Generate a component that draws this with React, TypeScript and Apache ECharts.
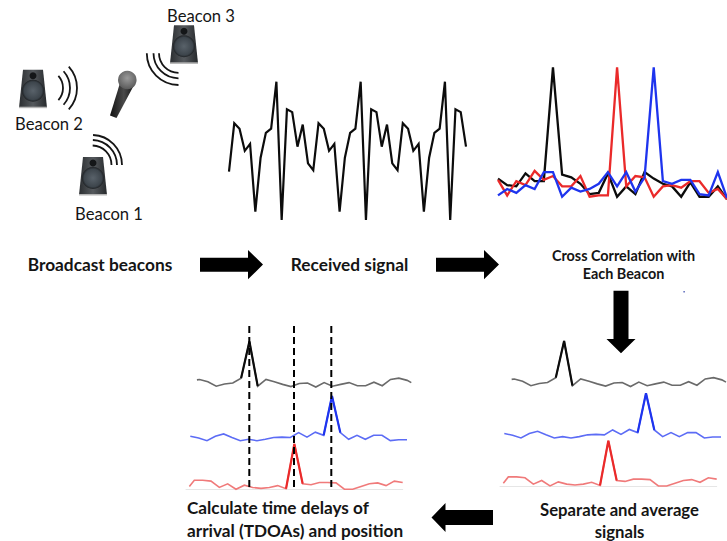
import React, { useEffect, useRef } from "react";
import * as echarts from "echarts";

const receivedSignal = [35, 70, 66, 50, 55, 6, 45, 63, 66, 100, 0, 80, 78, 53, 69, 41, 36, 70, 66, 50, 55, 6, 45, 63, 66, 100, 0, 80, 78, 53, 69, 41, 36, 70, 66, 50, 55, 6, 45, 63, 66, 100, 0, 80, 78, 53];

const crossBlack = [14, 9, 8, 18, 12, 12, 100, 17, 15, 10, 2, 3, 18, 0, 8, 2, 19, 14, 10, 8, 0, 11, 0, 0, 8, -2];
const crossRed = [13, 1, 12, 9, 20, 13, 16, 8, 8, 16, 0, 1, 1, 100, 8, 16, 15, 0, 8, 9, 7, 12, 12, 3, 6, -2];
const crossBlue = [1, 6, 3, 9, 6, 19, 19, 0, 7, 4, 6, 10, 19, 8, 19, 4, 15, 100, 12, 10, 13, 13, 2, 1, 19, -1];

const avgBlack = [14, 15, 10, 0, 5, 7, 18, 100, 0, 15, 10, 4, -1, 6, 7, -2, 8, 0, 4, 8, 1, 1, 9, 1, 15, 18, 13, 8];
const avgBlackTimes = [0.68, 1, 2, 3, 4, 5, 6, 7, 8, 9, 10, 11, 12, 13, 14, 15, 16, 17, 18, 19, 20, 21, 22, 23, 24, 25, 26, 26.5];
const avgBlue = [10, 6, 0, 10, 15, 7, 0, 3, 0, 3, 7, 8, 7, 18, 8, 19, 12, 100, 18, 3, 12, 3, 12, 12, 0, 2, 2];
const avgRed = [6, 20, 20, 18, 4, 12, 0, 9, 4, 2, 4, 8, 1, 100, 12, 10, 15, 15, 14, 0, 0, 6, 12, 14, 8, 18, 15];
const avgRedTimes = [0.4, 1, 2, 3, 4, 5, 6, 7, 8, 9, 10, 11, 12, 13, 14, 15, 16, 17, 18, 19, 20, 21, 22, 23, 24, 25, 26];

const BLACK = "#0c0c0c";
const RED = "#ea2a2a";
const BLUE = "#1e34ee";
const FONT = "Lato";

type Opt = { grid: any[]; xAxis: any[]; yAxis: any[]; series: any[] };

function addPanel(o: Opt, box: number[], xMax: number, yMin: number, lines: any[], axisLine = false) {
  const idx = o.grid.length;
  o.grid.push({ left: box[0], top: box[1], width: box[2], height: box[3], containLabel: false });
  o.xAxis.push({
    gridIndex: idx, type: "value", min: 0, max: xMax, splitLine: { show: false }, axisTick: { show: false }, axisLabel: { show: false },
    axisLine: { show: axisLine, onZero: true, lineStyle: { color: "#e6e6e6", width: 1 } },
  });
  o.yAxis.push({ gridIndex: idx, type: "value", min: yMin, max: 100, show: false, splitLine: { show: false } });
  lines.forEach((l) => {
    o.series.push({
      type: "line", xAxisIndex: idx, yAxisIndex: idx, data: l.data, symbol: "none", smooth: false, clip: false, silent: true,
      connectNulls: false, lineStyle: { color: l.color, width: l.width, join: "miter" }, z: l.z ?? 3,
    });
  });
}

function pairs(values: number[], times?: number[]) {
  return values.map((v, i) => [times ? times[i] : i, v]);
}

function peakOnly(d: number[][]) {
  const at = d.findIndex((p) => p[1] === 100);
  return d.slice(at - 1, at + 2);
}

function strip(o: Opt, box: number[], xMax: number, values: number[], times: number[] | undefined, base: string, peak: string, axisLine = false) {
  const d = pairs(values, times);
  addPanel(o, box, xMax, -5, [
    { data: d, color: base, width: 1.6 },
    { data: peakOnly(d), color: peak, width: 2.2, z: 4 },
  ], axisLine);
}

function arrow(points: number[][]) {
  return { type: "polygon", shape: { points }, style: { fill: "#000" }, z: 5 };
}

function label(text: string, x: number, y: number, size: number, weight: string, align = "center") {
  return {
    type: "text", x, y, z: 6,
    style: { text, fontFamily: FONT, fontSize: size, fontWeight: weight, fill: "#151515", align, verticalAlign: "middle" },
  };
}

function speaker(cx: number, by: number) {
  return {
    type: "group", x: cx, y: by, z: 4,
    children: [
      {
        type: "polygon", shape: { points: [[-10, -38], [10, -38], [14, 0], [-14, 0]] },
        style: { fill: new echarts.graphic.LinearGradient(0, 0, 1, 0, [{ offset: 0, color: "#2b2e31" }, { offset: 0.5, color: "#55595d" }, { offset: 1, color: "#26292c" }]) },
      },
      { type: "rect", shape: { x: -14, y: -1, width: 28, height: 1.5 }, style: { fill: "#b5b5b5" } },
      {
        type: "circle", shape: { cx: 0, cy: -17, r: 11 },
        style: { fill: new echarts.graphic.RadialGradient(0.5, 0.5, 0.5, [{ offset: 0, color: "#59626a" }, { offset: 0.8, color: "#3d454c" }, { offset: 1, color: "#1f2225" }]) },
      },
      { type: "circle", shape: { cx: 0, cy: -32, r: 3.5 }, style: { fill: "#141618" } },
    ],
  };
}

function arcs(cx: number, cy: number, radii: number[], startDeg: number, endDeg: number) {
  return radii.map((r) => ({
    type: "arc", z: 4,
    shape: { cx, cy, r, startAngle: (startDeg * Math.PI) / 180, endAngle: (endDeg * Math.PI) / 180, clockwise: true },
    style: { fill: "none", stroke: "#151515", lineWidth: 1.8 },
  }));
}

function dashed(x: number) {
  return {
    type: "line", z: 5,
    shape: { x1: x, y1: 326, x2: x, y2: 488 },
    style: { stroke: "#000", lineWidth: 2, lineDash: [7, 4] },
  };
}

function buildOption() {
  const o: Opt = { grid: [], xAxis: [], yAxis: [], series: [] };

  addPanel(o, [229, 81.7, 237, 138.3], 45, 0, [{ data: pairs(receivedSignal), color: BLACK, width: 2.2 }]);
  addPanel(o, [498, 67.3, 233.3, 135.9], 25, -5, [
    { data: pairs(crossBlack), color: BLACK, width: 2.3, z: 3 },
    { data: pairs(crossRed), color: RED, width: 2.3, z: 4 },
    { data: pairs(crossBlue), color: BLUE, width: 2.3, z: 5 },
  ]);

  strip(o, [506, 341, 220, 46.9], 26.5, avgBlack, avgBlackTimes, "#6a6a6a", BLACK);
  strip(o, [504.3, 393.3, 216.7, 46.9], 26, avgBlue, undefined, "#5c6cf5", BLUE);
  strip(o, [500, 440.7, 216.7, 47.5], 26, avgRed, avgRedTimes, "#f07a7a", RED, true);

  strip(o, [191.3, 341.5, 220, 46.9], 26.5, avgBlack, avgBlackTimes, "#6a6a6a", BLACK);
  strip(o, [190.3, 396, 216.7, 46.9], 26, avgBlue, undefined, "#5c6cf5", BLUE);
  strip(o, [186, 444, 216.7, 47.5], 26, avgRed, avgRedTimes, "#f07a7a", RED, true);

  const elements: any[] = [
    speaker(33, 107.7),
    speaker(93, 195),
    speaker(184, 63.3),
    ...arcs(45, 88, [18, 25, 32], -42, 42),
    ...arcs(92, 165, [19.5, 25, 30], -88, 0),
    ...arcs(178.5, 53.3, [19.5, 25, 31.7], 90, 180),
    {
      type: "polygon", z: 4, shape: { points: [[110, 115.5], [116.5, 118], [133, 87], [120, 83]] },
      style: { fill: new echarts.graphic.LinearGradient(0, 0, 1, 0, [{ offset: 0, color: "#111" }, { offset: 0.6, color: "#4a4a4a" }, { offset: 1, color: "#1a1a1a" }]) },
    },
    {
      type: "circle", z: 5, shape: { cx: 127.3, cy: 80, r: 9.3 },
      style: { fill: new echarts.graphic.RadialGradient(0.5, 0.4, 0.6, [{ offset: 0, color: "#9a9a9a" }, { offset: 1, color: "#5a5a5a" }]) },
    },
    label("Beacon 3", 201, 16, 16.6, "normal"),
    label("Beacon 2", 49, 124, 16.6, "normal"),
    label("Beacon 1", 109, 214, 16.6, "normal"),
    label("Broadcast beacons", 100, 264.5, 17.3, "bold"),
    label("Received signal", 349.5, 264.5, 17.3, "bold"),
    label("Cross Correlation with", 623.5, 255, 14.4, "bold"),
    label("Each Beacon", 623.5, 273, 14.4, "bold"),
    label("Calculate time delays of", 187, 507, 17.2, "bold", "left"),
    label("arrival (TDOAs) and position", 187, 530, 17.2, "bold", "left"),
    label("Separate and average", 619.5, 510, 16.7, "bold"),
    label("signals", 619.5, 532, 16.7, "bold"),
    arrow([[200, 257.7], [248, 257.7], [248, 250], [263, 264.5], [248, 279.3], [248, 271.7], [200, 271.7]]),
    arrow([[436, 257.7], [484, 257.7], [484, 250], [499, 264.5], [484, 279.3], [484, 271.7], [436, 271.7]]),
    arrow([[613.5, 290.7], [628.5, 290.7], [628.5, 339], [635.5, 339], [621, 353.3], [606.5, 339], [613.5, 339]]),
    arrow([[493, 510], [445.5, 510], [445.5, 503], [431.5, 517.5], [445.5, 532], [445.5, 525], [493, 525]]),
    dashed(249.3),
    dashed(294),
    dashed(331.3),
    { type: "rect", z: 4, shape: { x: 683.5, y: 291, width: 1.2, height: 1.6 }, style: { fill: "#3344aa" } },
  ];

  return { animation: false, backgroundColor: "#fff", ...o, graphic: { elements } };
}

export default function App() {
  const ref = useRef<HTMLDivElement>(null);
  useEffect(() => {
    document.body.style.margin = "0";
    const chart = echarts.init(ref.current!, undefined, { renderer: "svg" });
    chart.setOption(buildOption() as any);
    return () => chart.dispose();
  }, []);
  return <div ref={ref} style={{ width: 727, height: 541 }} />;
}
